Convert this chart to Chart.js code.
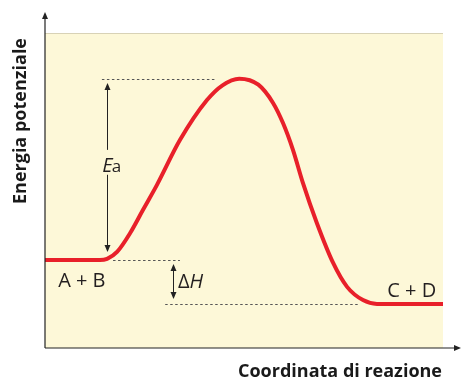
<!DOCTYPE html>
<html>
<head>
<meta charset="utf-8">
<script src="https://cdn.jsdelivr.net/npm/chart.js@4/dist/chart.umd.min.js"></script>
<style>
html,body{margin:0;padding:0;background:#fff;}
#wrap{width:461px;height:379px;}
</style>
</head>
<body>
<div id="wrap"><canvas id="c" width="461" height="379"></canvas></div>
<script>
// Reaction coordinate (0-100) and potential energy (0-100)
const reactionCoord = [0, 13.8, 15.6, 18.1, 21.4, 24.6, 28.1, 33.9, 40.7, 44.6, 48.8, 53.6, 57.3, 59.8, 62.3, 64.8, 68.3, 72.4, 75.9, 79.9, 83.4, 100];
const energy        = [27.9, 27.9, 28.3, 30.5, 36.5, 43.8, 51.7, 66.0, 78.7, 83.4, 85.5, 83.6, 77.8, 71.4, 62.9, 52.4, 39.7, 27.0, 19.4, 15.2, 14.0, 14.0];

// Energy levels
const levelReactants = 27.9;
const levelProducts = 14.0;
const levelPeak = 85.4;

const labels = {
  reactants: "A + B",
  products: "C + D",
  activation: ["E", "a"],
  enthalpy: ["Δ", "H"],
  xTitle: "Coordinata di reazione",
  yTitle: "Energia potenziale"
};

const points = reactionCoord.map((x, i) => ({x: x, y: energy[i]}));

function arrowHead(ctx, x, y, dir) {
  // dir: -1 points up, 1 points down, 2 points right
  ctx.beginPath();
  if (dir === 2) {
    ctx.moveTo(x, y); ctx.lineTo(x - 7, y - 3); ctx.lineTo(x - 7, y + 3);
  } else {
    ctx.moveTo(x, y); ctx.lineTo(x - 3, y - 7 * dir); ctx.lineTo(x + 3, y - 7 * dir);
  }
  ctx.closePath();
  ctx.fill();
}

const decor = {
  id: 'decor',
  beforeDraw(chart) {
    const {ctx, chartArea: a} = chart;
    ctx.save();
    ctx.fillStyle = '#fdf8d8';
    ctx.fillRect(a.left, a.top, a.right - a.left, a.bottom - a.top);
    ctx.strokeStyle = '#d8d2b6';
    ctx.lineWidth = 1;
    ctx.beginPath(); ctx.moveTo(a.left, a.top + 0.5); ctx.lineTo(a.right, a.top + 0.5); ctx.stroke();
    ctx.restore();
  },
  beforeDatasetsDraw(chart) {
    const {ctx, scales: {x, y}} = chart;
    ctx.save();
    ctx.strokeStyle = '#555';
    ctx.lineWidth = 1;
    ctx.setLineDash([2.5, 2.5]);
    const dashes = [
      [14.3, 43.0, levelPeak],
      [17.1, 33.9, levelReactants],
      [30.2, 79.1, levelProducts]
    ];
    dashes.forEach(([x0, x1, yv]) => {
      const py = Math.round(y.getPixelForValue(yv)) + 0.5;
      ctx.beginPath(); ctx.moveTo(x.getPixelForValue(x0), py); ctx.lineTo(x.getPixelForValue(x1), py); ctx.stroke();
    });
    ctx.restore();
  },
  afterDatasetsDraw(chart) {
    const {ctx, chartArea: a, scales: {x, y}} = chart;
    ctx.save();
    ctx.strokeStyle = '#222';
    ctx.fillStyle = '#222';
    ctx.lineWidth = 1.2;
    // Axes
    ctx.beginPath(); ctx.moveTo(a.left, a.bottom); ctx.lineTo(a.left, 18); ctx.stroke();
    arrowHead(ctx, a.left, 12, -1);
    ctx.beginPath(); ctx.moveTo(a.left, a.bottom); ctx.lineTo(455, a.bottom); ctx.stroke();
    arrowHead(ctx, 461, a.bottom, 2);

    // Ea arrow
    ctx.lineWidth = 1;
    const ex = Math.round(x.getPixelForValue(15.7)) + 0.5;
    const eTop = y.getPixelForValue(levelPeak) + 4;
    const eBot = y.getPixelForValue(levelReactants) - 8;
    ctx.beginPath();
    ctx.moveTo(ex, eTop + 6); ctx.lineTo(ex, y.getPixelForValue(62.9));
    ctx.moveTo(ex, y.getPixelForValue(55.0)); ctx.lineTo(ex, eBot - 6);
    ctx.stroke();
    arrowHead(ctx, ex, eTop, -1);
    arrowHead(ctx, ex, eBot, 1);

    // ΔH arrow
    const hx = Math.round(x.getPixelForValue(32.2)) + 0.5;
    const hTop = y.getPixelForValue(levelReactants) + 4;
    const hBot = y.getPixelForValue(levelProducts) - 5;
    ctx.beginPath(); ctx.moveTo(hx, hTop + 6); ctx.lineTo(hx, hBot - 6); ctx.stroke();
    arrowHead(ctx, hx, hTop, -1);
    arrowHead(ctx, hx, hBot, 1);

    // Labels
    ctx.fillStyle = '#231f20';
    ctx.textBaseline = 'alphabetic';
    ctx.textAlign = 'left';
    ctx.font = '400 20px "Open Sans"';
    ctx.fillText(labels.reactants, x.getPixelForValue(3.3), y.getPixelForValue(19.4));
    ctx.fillText(labels.products, x.getPixelForValue(86.0), y.getPixelForValue(16.2));
    const hxT = x.getPixelForValue(33.4), hyT = y.getPixelForValue(19.0);
    ctx.fillText(labels.enthalpy[0], hxT, hyT);
    const dw = ctx.measureText(labels.enthalpy[0]).width;
    ctx.font = 'italic 400 20px "Open Sans"';
    ctx.fillText(labels.enthalpy[1], hxT + dw, hyT);
    const exT = x.getPixelForValue(14.4), eyT = y.getPixelForValue(55.9);
    ctx.fillText(labels.activation[0], exT, eyT);
    const ew = ctx.measureText(labels.activation[0]).width;
    ctx.font = '400 17px "Open Sans"';
    ctx.fillText(labels.activation[1], exT + ew - 1, eyT);

    // Axis titles
    ctx.fillStyle = '#1a1a1a';
    ctx.font = 'bold 18px "Open Sans"';
    ctx.textAlign = 'right';
    ctx.fillText(labels.xTitle, 442, 377);
    ctx.translate(26, 121);
    ctx.rotate(-Math.PI / 2);
    ctx.textAlign = 'center';
    ctx.fillText(labels.yTitle, 0, 0);
    ctx.restore();
  }
};

new Chart(document.getElementById('c'), {
  type: 'line',
  data: {
    datasets: [{
      data: points,
      borderColor: '#e8202a',
      borderWidth: 4,
      pointRadius: 0,
      fill: false,
      cubicInterpolationMode: 'monotone'
    }]
  },
  options: {
    responsive: false,
    animation: false,
    layout: {padding: {left: 45, top: 33, right: 18, bottom: 31}},
    plugins: {legend: {display: false}, tooltip: {enabled: false}},
    scales: {
      x: {type: 'linear', min: 0, max: 100, display: false},
      y: {type: 'linear', min: 0, max: 100, display: false}
    }
  },
  plugins: [decor]
});
</script>
</body>
</html>
